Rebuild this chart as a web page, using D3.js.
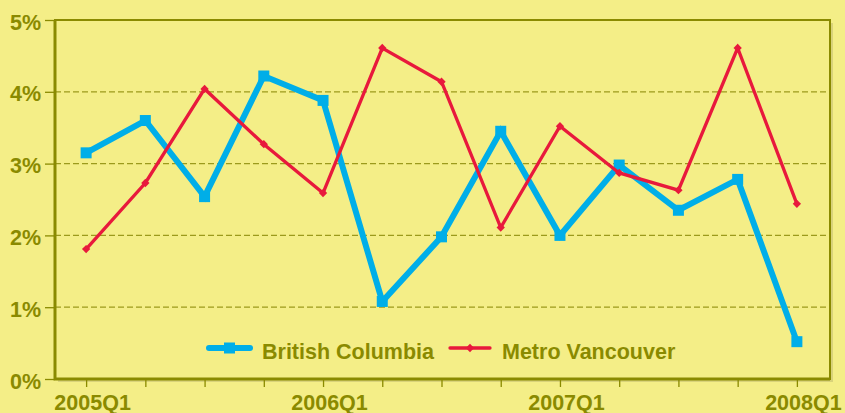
<!DOCTYPE html>
<html lang="en">
<head>
  <meta charset="UTF-8">
  <title>BC vs Metro Vancouver</title>
  <style>
    html, body { margin: 0; padding: 0; background: #f4ee87; }
    text {
      font-family: "Liberation Sans", Arial, sans-serif;
      font-weight: bold;
      fill: #8a8a00;
    }
  </style>
</head>
<body>
  <div id="app"></div>

  <script src="https://cdn.jsdelivr.net/npm/d3@7"></script>
  <script>
    const quarters = [
      '2005Q1', '2005Q2', '2005Q3', '2005Q4',
      '2006Q1', '2006Q2', '2006Q3', '2006Q4',
      '2007Q1', '2007Q2', '2007Q3', '2007Q4',
      '2008Q1'
    ]
    const britishColumbia = [3.15, 3.6, 2.54, 4.22, 3.88, 1.08, 1.98, 3.45, 2.0, 2.98, 2.35, 2.78, 0.52]
    const metroVancouver = [1.81, 2.73, 4.04, 3.27, 2.59, 4.61, 4.14, 2.11, 3.52, 2.87, 2.63, 4.61, 2.44]
    const xLabels = ['2005Q1', '2006Q1', '2007Q1', '2008Q1']
    const yTicks = [0, 1, 2, 3, 4, 5]

    const width = 845, height = 413
    const olive = '#8a8a00'
    const blue = '#00aee8'
    const red = '#e8193c'
    const fontSize = 21.5

    const svg = d3.select('#app').append('svg')
      .attr('width', width)
      .attr('height', height)
      .style('display', 'block')

    svg.append('rect')
      .attr('width', width).attr('height', height)
      .attr('fill', '#f4ee87')

    const plot = { left: 55, right: 830, top: 20, bottom: 379 }

    const x = d3.scalePoint()
      .domain(quarters)
      .range([56.5, 826.5])
      .padding(0.5)

    const y = d3.scaleLinear()
      .domain([0, 5])
      .range([plot.bottom, plot.top])

    // soft shadow of the frame
    svg.append('path')
      .attr('d', `M${plot.right + 2},${plot.top + 3}V${plot.bottom + 2}H${plot.left + 3}`)
      .attr('fill', 'none')
      .attr('stroke', '#d9d37a')
      .attr('stroke-width', 2)

    // gridlines
    svg.append('g')
      .selectAll('line')
      .data(yTicks.filter(d => d > 0 && d < 5))
      .join('line')
      .attr('x1', plot.left).attr('x2', plot.right)
      .attr('y1', d => y(d)).attr('y2', d => y(d))
      .attr('stroke', '#9c9a1c')
      .attr('stroke-width', 1.3)
      .attr('stroke-dasharray', '6,3')

    // y axis
    const yAxis = svg.append('g')
      .attr('transform', `translate(${plot.left},0)`)
      .call(d3.axisLeft(y).tickValues(yTicks).tickSize(10).tickPadding(4).tickFormat(d => d + '%'))
    yAxis.select('.domain').remove()
    yAxis.selectAll('.tick line').attr('stroke', olive).attr('stroke-width', 1.3)
    yAxis.selectAll('.tick text')
      .attr('font-size', fontSize)
      .attr('dy', '0.42em')
      .attr('fill', olive)
      .style('font-family', '"Liberation Sans", Arial, sans-serif')
      .style('font-weight', 'bold')

    // x axis
    const xAxis = svg.append('g')
      .attr('transform', `translate(0,${plot.bottom})`)
      .call(d3.axisBottom(x).tickSizeInner(8).tickSizeOuter(0).tickPadding(8)
        .tickFormat(d => xLabels.includes(d) ? d : ''))
    xAxis.select('.domain').remove()
    xAxis.selectAll('.tick line').attr('stroke', olive).attr('stroke-width', 1.3)
    xAxis.selectAll('.tick text')
      .attr('font-size', fontSize)
      .attr('dx', 6)
      .attr('fill', olive)
      .style('font-family', '"Liberation Sans", Arial, sans-serif')
      .style('font-weight', 'bold')

    // frame
    svg.append('rect')
      .attr('x', plot.left).attr('y', plot.top)
      .attr('width', plot.right - plot.left)
      .attr('height', plot.bottom - plot.top)
      .attr('fill', 'none')
      .attr('stroke', olive)
      .attr('stroke-width', 2)
    svg.append('path')
      .attr('d', `M${plot.left},${plot.top}V${plot.bottom}H${plot.right}`)
      .attr('fill', 'none')
      .attr('stroke', olive)
      .attr('stroke-width', 3)

    const line = d3.line()
      .x((d, i) => x(quarters[i]))
      .y(d => y(d))

    // British Columbia
    svg.append('path')
      .datum(britishColumbia)
      .attr('d', line)
      .attr('fill', 'none')
      .attr('stroke', blue)
      .attr('stroke-width', 6)
    svg.append('g')
      .selectAll('rect')
      .data(britishColumbia)
      .join('rect')
      .attr('x', (d, i) => x(quarters[i]) - 5.5)
      .attr('y', d => y(d) - 5.5)
      .attr('width', 11).attr('height', 11)
      .attr('fill', blue)

    // Metro Vancouver
    svg.append('path')
      .datum(metroVancouver)
      .attr('d', line)
      .attr('fill', 'none')
      .attr('stroke', red)
      .attr('stroke-width', 3.3)
    const diamond = d3.symbol().type(d3.symbolDiamond2).size(44)
    svg.append('g')
      .selectAll('path')
      .data(metroVancouver)
      .join('path')
      .attr('d', diamond)
      .attr('transform', (d, i) => `translate(${x(quarters[i])},${y(d)})`)
      .attr('fill', red)

    // legend
    const legend = svg.append('g').attr('transform', 'translate(0,348)')
    legend.append('line')
      .attr('x1', 209).attr('x2', 250)
      .attr('stroke', blue).attr('stroke-width', 6).attr('stroke-linecap', 'round')
    legend.append('rect')
      .attr('x', 224).attr('y', -5.5).attr('width', 11).attr('height', 11)
      .attr('fill', blue)
    legend.append('text')
      .attr('x', 262).attr('y', 11)
      .attr('font-size', fontSize)
      .text('British Columbia')

    legend.append('line')
      .attr('x1', 450).attr('x2', 490)
      .attr('stroke', red).attr('stroke-width', 3.3).attr('stroke-linecap', 'round')
    legend.append('path')
      .attr('d', diamond)
      .attr('transform', 'translate(470,0)')
      .attr('fill', red)
    legend.append('text')
      .attr('x', 502).attr('y', 11)
      .attr('font-size', fontSize)
      .text('Metro Vancouver')
  </script>
</body>
</html>
